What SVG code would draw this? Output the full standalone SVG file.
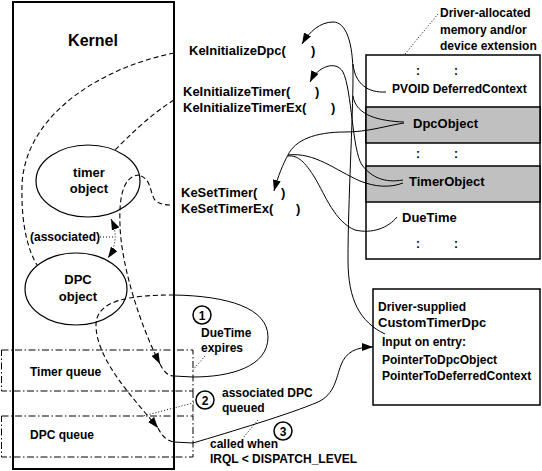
<svg xmlns="http://www.w3.org/2000/svg" width="542" height="471" viewBox="0 0 542 471">
<defs>
<marker id="arr" markerUnits="userSpaceOnUse" markerWidth="11" markerHeight="8" refX="11" refY="4" orient="auto-start-reverse"><path d="M0,0 L11,4 L0,8 z" fill="#000"/></marker>
</defs>
<style>
text{font-family:"Liberation Sans",Arial,sans-serif;font-weight:bold;font-size:12px;fill:#000}
.big{font-size:13px}
.box{fill:#fff;stroke:#000;stroke-width:1.5}
.gray{fill:#c0c0c0;stroke:#000;stroke-width:1.5}
.ell{fill:none;stroke:#000;stroke-width:1.2}
.solid{fill:none;stroke:#000;stroke-width:1}
.dash{fill:none;stroke:#000;stroke-width:1.1;stroke-dasharray:5,3}
.dot{fill:none;stroke:#000;stroke-width:1;stroke-dasharray:1,2}
.dashdot{fill:none;stroke:#000;stroke-width:1;stroke-dasharray:7,2.5,1.5,2.5}
.circ{fill:#fff;stroke:#000;stroke-width:1.5}
</style>

<g id="kernel">
<rect x="13" y="2" width="161" height="467" fill="#fff" stroke="#000" stroke-width="2"/>
<text x="93" y="46" text-anchor="middle" style="font-size:16px">Kernel</text>
</g>

<g id="timer-queue">
<rect x="1.5" y="350" width="191.5" height="41" class="dashdot"/>
<text x="30" y="376">Timer queue</text>
</g>
<g id="dpc-queue">
<rect x="1.5" y="416" width="191.5" height="41" class="dashdot"/>
<line x1="193" y1="391" x2="193" y2="416" class="dashdot"/>
<text x="30" y="439">DPC queue</text>
</g>

<g id="timer-object">
<ellipse cx="88" cy="181" rx="52" ry="36" class="ell"/>
<text x="89" y="177" text-anchor="middle" class="big">timer</text>
<text x="89" y="193" text-anchor="middle" class="big">object</text>
</g>

<g id="dpc-object">
<ellipse cx="76" cy="289" rx="51" ry="36" class="ell"/>
<text x="78" y="284" text-anchor="middle" class="big">DPC</text>
<text x="78" y="301" text-anchor="middle" class="big">object</text>
</g>

<g id="associated">
<text x="30" y="241">(associated)</text>
</g>

<g id="functions">
<text x="189" y="55" class="big">KeInitializeDpc(<tspan x="311">)</tspan></text>
<text x="183" y="96" class="big">KeInitializeTimer(<tspan x="315">)</tspan></text>
<text x="183" y="112" class="big">KeInitializeTimerEx(<tspan x="331">)</tspan></text>
<text x="181" y="197" class="big">KeSetTimer(<tspan x="281">)</tspan></text>
<text x="181" y="213" class="big">KeSetTimerEx(<tspan x="296">)</tspan></text>
</g>

<g id="memory">
<rect x="366" y="55" width="174" height="204" class="box"/>
<rect x="366" y="107" width="174" height="36" class="gray"/>
<rect x="366" y="166" width="174" height="36" class="gray"/>
<text x="418" y="75" text-anchor="middle">:</text>
<text x="456" y="75" text-anchor="middle">:</text>
<text x="392" y="93">PVOID DeferredContext</text>
<text x="413" y="128" class="big">DpcObject</text>
<text x="418" y="158" text-anchor="middle">:</text>
<text x="456" y="158" text-anchor="middle">:</text>
<text x="409" y="186" class="big">TimerObject</text>
<text x="402" y="222" class="big">DueTime</text>
<text x="418" y="248" text-anchor="middle">:</text>
<text x="456" y="248" text-anchor="middle">:</text>
</g>

<g id="memory-label">
<text x="440" y="17">Driver-allocated</text>
<text x="440" y="34">memory and/or</text>
<text x="440" y="50">device extension</text>
</g>

<g id="custom-dpc">
<rect x="373" y="289" width="167" height="116" class="box"/>
<text x="378" y="311">Driver-supplied</text>
<text x="378" y="327" style="font-size:13px">CustomTimerDpc</text>
<text x="382" y="346">Input on entry:</text>
<text x="382" y="364">PointerToDpcObject</text>
<text x="382" y="380">PointerToDeferredContext</text>
</g>

<g id="steps">
<circle cx="202" cy="315" r="9" class="circ"/>
<text x="202" y="319.5" text-anchor="middle">1</text>
<text x="201" y="337">DueTime</text>
<text x="201" y="352">expires</text>
<circle cx="205" cy="400" r="9" class="circ"/>
<text x="205" y="404.5" text-anchor="middle">2</text>
<text x="222" y="397">associated DPC</text>
<text x="222" y="412">queued</text>
<circle cx="283" cy="431" r="9" class="circ"/>
<text x="283" y="435.5" text-anchor="middle">3</text>
<text x="210" y="448">called when</text>
<text x="210" y="463">IRQL &lt; DISPATCH_LEVEL</text>
</g>

<g id="connectors">
<path class="dash" d="M174,53 C100,68 25,115 22,185 C21,225 28,250 37,265"/>
<path class="dash" d="M174,100 C150,115 130,135 115,150"/>
<path class="dash" d="M141,176 C152,180 150,196 156,201 C161,205 167,205 174,205"/>
<path class="dash" d="M140,175 C122,175 119,200 120,225 C121,265 140,325 160,364" marker-end="url(#arr)"/>
<path class="dash" d="M160,364 C164,372 168,376 174,376"/>
<path class="solid" d="M174,376 L193,377 C230,377 268,367 268,337 C268,308 228,296 174,295"/>
<path class="dash" d="M174,295 C130,295 96,300 96,325 C96,360 135,400 158,428" marker-end="url(#arr)"/>
<path class="dash" d="M158,428 C162,436 167,441 174,442"/>
<path class="solid" d="M174,442 L193,443 C230,432 290,414 318,402 C335,394 336,378 341,365 C346,352 356,347 373,347" marker-end="url(#arr)"/>
<path class="dot" d="M111,219 C117,232 117,245 108,258" marker-start="url(#arr)" marker-end="url(#arr)"/>
<path class="dot" d="M100,237 L115,237"/>
<path class="solid" d="M385,334 C360,322 348,300 348,260 C348,200 353,120 353,75 C353,42 346,22 333,22 C320,22 309,32 302,44" marker-end="url(#arr)"/>
<path class="solid" d="M386,92 C368,93 355,84 353,64"/>
<path class="solid" d="M404,122 C380,121 356,116 353,96"/>
<path class="solid" d="M403,180 C385,183 372,178 362,165 C352,150 352,90 343,72 C336,60 318,66 310,82" marker-end="url(#arr)"/>
<path class="solid" d="M404,123 C385,126 368,132 345,132 C315,132 295,140 288,155 C283,164 278,176 274,191" marker-end="url(#arr)"/>
<path class="solid" d="M403,183 C390,188 375,187 360,181 C335,170 315,152 288,155"/>
<path class="solid" d="M397,217 C388,228 372,234 355,230 C335,222 325,195 315,178 C305,162 298,155 288,156"/>
<path class="dot" d="M405,54 L438,14"/>
<path class="dot" d="M205,356 L192,371"/>
<path class="dot" d="M197,402 L143,416"/>
<path class="dot" d="M258,420 L243,438"/>
</g>
</svg>
